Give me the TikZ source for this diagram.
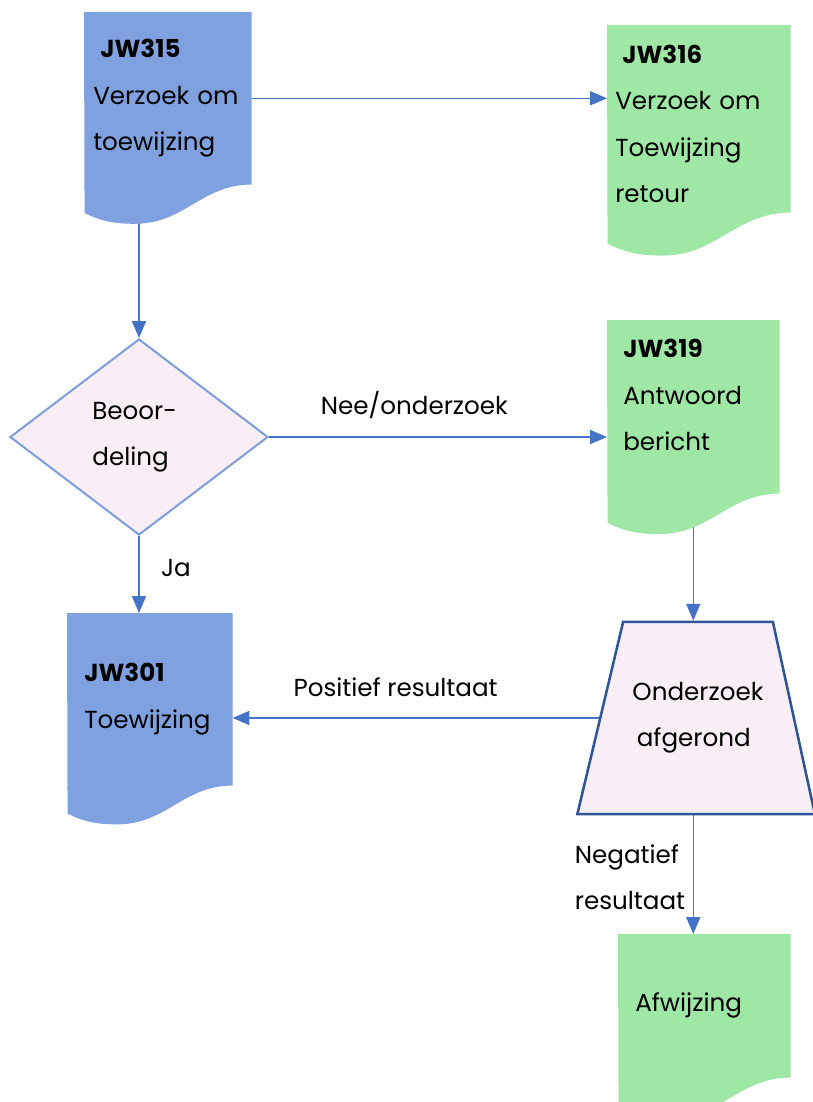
\documentclass[tikz,border=0pt]{standalone}
\usepackage{fontspec}
\setmainfont{Poppins}
\usetikzlibrary{shapes.geometric, arrows.meta}

\definecolor{jwblue}{RGB}{127,161,223}
\definecolor{jwgreen}{RGB}{159,231,165}
\definecolor{jwpink}{RGB}{249,238,245}
\definecolor{lineblue}{RGB}{68,114,196}
\definecolor{rimblue}{RGB}{124,157,221}
\definecolor{darkrim}{RGB}{47,85,151}

\pgfdeclarelayer{lines}
\pgfdeclarelayer{docs}
\pgfsetlayers{lines,docs,main}

% name, x, y, width, height, fill style, padding, text, extra options
\newcommand{\docnode}[9]{%
  \node[doctext, minimum width={#4*0.025cm}, minimum height={#5*0.025cm},
        inner xsep={#7*0.025cm}, text width={(#4-2*#7)*0.025cm}, #9] (#1) at (#2,#3) {#8};
  \begin{pgfonlayer}{docs}
    \fill[#6] (#1.north west) -- (#1.north east) -- (#1.south east)
      .. controls +(-0.3*#4,0) and +(0.3*#4,0) .. ++(-0.7*#4,0.235*#4)
      .. controls +(-0.12*#4,0) and +(0.1*#4,0.05*#4) .. ++(-0.3*#4,-0.065*#4) -- cycle;
  \end{pgfonlayer}}

\begin{document}
\begin{tikzpicture}[x=0.025cm, y=-0.025cm,
  every node/.style={font=\fontsize{17.5}{33}\selectfont},
  doctext/.style={inner ysep=0pt, align=left, anchor=north west},
  docblue/.style={fill=jwblue}, docgreen/.style={fill=jwgreen},
  conn/.style={draw=lineblue, line width=0.9pt, -{Triangle[length=12pt,width=10pt]}},
  decision/.style={diamond, draw=rimblue, line width=1.4pt, fill=jwpink,
    minimum width=6.45cm, minimum height=4.9cm, inner sep=0pt, align=left},
  trapbox/.style={trapezium, trapezium left angle=62, trapezium right angle=64,
    trapezium stretches=true, draw=darkrim, line width=1.8pt, fill=jwpink,
    minimum width=5.95cm, minimum height=4.8cm, align=center}]
  \useasboundingbox (0,0) rectangle (812,1102);

  \docnode{jw315}{84}{12}{167}{172}{docblue}{9}{\hspace*{5pt}\textbf{JW315}\\Verzoek om\\toewijzing}{}
  \docnode{jw316}{607}{25}{183}{187}{docgreen}{8}{\hspace*{5pt}\textbf{JW316}\\Verzoek om\\Toewijzing\\retour}{text depth=92pt}
  \docnode{jw319}{607}{320}{172}{173}{docgreen}{16}{\textbf{JW319}\\Antwoord\\bericht}{text depth=83pt}
  \docnode{jw301}{67}{613}{165}{172}{docblue}{17}{\textbf{JW301}\\Toewijzing}{}
  \docnode{afwijzing}{618}{934}{172}{143}{docgreen}{17}{Afwijzing}{}

  \node[decision] (beoordeling) at (139,437) {Beoor-\\deling\hspace*{12pt}};
  \node[trapbox] (onderzoek) at (698,718) {Onderzoek\\afgerond\hspace*{6pt}};
  \coordinate (negstart) at (onderzoek.south -| jw319.south);

  \begin{pgfonlayer}{lines}
    \draw[conn] (jw315.east) -- (jw315.east -| jw316.west);
    \draw[conn] (jw315.south -| beoordeling.north) -- (beoordeling.north);
    \draw[conn] (beoordeling.east) -- node[above=9pt, pos=.43] {Nee/onderzoek} (beoordeling.east -| jw319.west);
    \draw[conn] (beoordeling.south) -- node[right=12pt, pos=.41] {Ja} (beoordeling.south |- jw301.north);
    \draw[conn] (jw319.south) -- (jw319.south |- onderzoek.north);
    \draw[conn] (onderzoek.west) -- node[above=11pt, pos=.555] {Positief resultaat} (onderzoek.west -| jw301.east);
    \draw[conn] (negstart) -- node[left=2pt, pos=.52, align=left] {Negatief\\resultaat} (negstart |- afwijzing.north);
  \end{pgfonlayer}
\end{tikzpicture}
\end{document}
